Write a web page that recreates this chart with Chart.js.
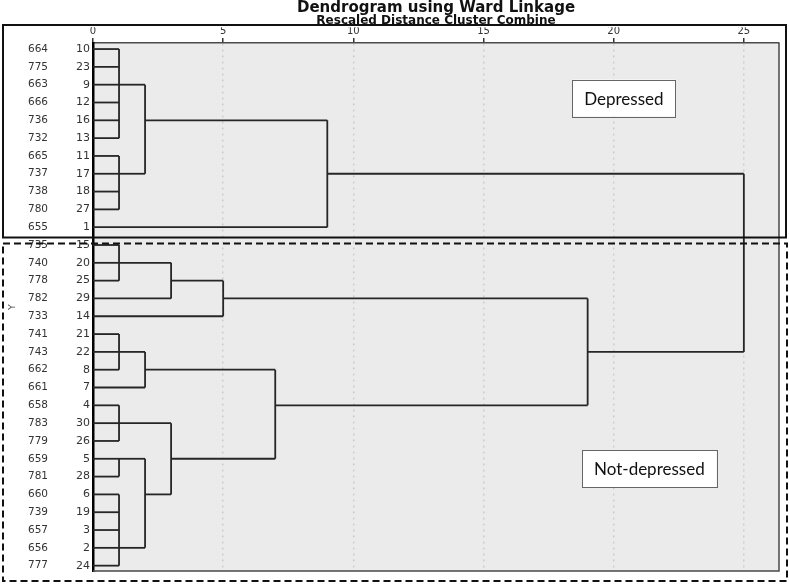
<!DOCTYPE html>
<html>
<head>
<meta charset="utf-8">
<title>Dendrogram using Ward Linkage</title>
<script src="https://cdn.jsdelivr.net/npm/chart.js@4.4.1/dist/chart.umd.min.js"></script>
<style>
  html, body { margin: 0; padding: 0; background: #fff; }
  #wrap { width: 789px; height: 586px; position: relative; }
</style>
</head>
<body>
<div id="wrap"><canvas id="dendro"></canvas></div>
<script>
// leaves, top to bottom
var leafLabels = ['10','23','9','12','16','13','11','17','18','27','1',
                  '15','20','25','29','14','21','22','8','7','4','30','26',
                  '5','28','6','19','3','2','24'];
var caseLabels = ['664','775','663','666','736','732','665','737','738','780','655',
                  '735','740','778','782','733','741','743','662','661','658','783','779',
                  '659','781','660','739','657','656','777'];

// clusters: members are leaf rows (1-based) or cluster names
var clusterNames    = ['A','B','AB','DEP','C','C2','C3','D','D2','E','F','G','FG','EFG','LOW','LOW2','ROOT'];
var clusterChildren = [[1,2,3,4,5,6],[7,8,9,10],['A','B'],['AB',11],[12,13,14],['C',15],['C2',16],
                       [17,18,19],['D',20],[21,22,23],[24,25],[26,27,28,29,30],['F','G'],['E','FG'],
                       ['D2','EFG'],['C3','LOW'],['DEP','LOW2']];
var clusterDistance = [1,1,2,9,1,3,5,1,2,1,1,1,2,3,7,19,25];
var clusterRow      = [3,8,5,8,13,14,15,18,19,22,24,29,26,24,21,18,13];

var groupNames = ['Depressed','Not-depressed'];

// build segments
var nodeX = {}, nodeY = {};
for (var i = 0; i < leafLabels.length; i++) { nodeX[i + 1] = 0; nodeY[i + 1] = i + 1; }
var datasets = [];
function seg(x1, y1, x2, y2) {
  datasets.push({
    data: [{x: x1, y: y1}, {x: x2, y: y2}],
    borderColor: '#262626',
    borderWidth: 1.8,
    pointRadius: 0,
    showLine: true,
    fill: false
  });
}
for (var c = 0; c < clusterNames.length; c++) {
  var d = clusterDistance[c];
  var ys = [];
  clusterChildren[c].forEach(function (k) {
    seg(nodeX[k], nodeY[k], d, nodeY[k]);
    ys.push(nodeY[k]);
  });
  seg(d, Math.min.apply(null, ys), d, Math.max.apply(null, ys));
  nodeX[clusterNames[c]] = d;
  nodeY[clusterNames[c]] = clusterRow[c];
}

var decor = {
  id: 'decor',
  beforeDraw: function (chart) {
    var a = chart.chartArea, ctx = chart.ctx;
    ctx.save();
    ctx.fillStyle = '#fff';
    ctx.fillRect(0, 0, chart.width, chart.height);
    ctx.fillStyle = '#ebebeb';
    ctx.fillRect(a.left, a.top, a.right - a.left, a.bottom - a.top);
    ctx.restore();
  },
  afterDraw: function (chart) {
    var a = chart.chartArea, ctx = chart.ctx;
    var xs = chart.scales.x, ys = chart.scales.y;
    ctx.save();
    // plot frame right / bottom
    ctx.strokeStyle = '#4a4a4a';
    ctx.lineWidth = 1.5;
    ctx.beginPath();
    ctx.moveTo(a.right, a.top); ctx.lineTo(a.right, a.bottom); ctx.lineTo(a.left, a.bottom);
    ctx.stroke();
    // group boxes
    var split1 = Math.round(ys.getPixelForValue(11.55)) + 0.5;
    var split2 = Math.round(ys.getPixelForValue(11.88)) + 0.5;
    ctx.strokeStyle = '#111';
    ctx.lineWidth = 2;
    ctx.strokeRect(3, 25, 783, split1 - 25);
    ctx.setLineDash([7, 4]);
    ctx.strokeRect(3, split2, 784, 581 - split2);
    ctx.setLineDash([]);
    // group labels
    ctx.font = '17px Lato';
    ctx.textAlign = 'center';
    ctx.textBaseline = 'middle';
    var pos = [[20.39, 3.75], [21.37, 24.56]];
    groupNames.forEach(function (t, i) {
      var cx = xs.getPixelForValue(pos[i][0]);
      var cy = ys.getPixelForValue(pos[i][1]);
      var w = ctx.measureText(t).width + 24, h = 37;
      ctx.fillStyle = '#fff';
      ctx.fillRect(cx - w / 2, cy - h / 2, w, h);
      ctx.strokeStyle = '#666';
      ctx.lineWidth = 1;
      ctx.strokeRect(Math.round(cx - w / 2) + 0.5, Math.round(cy - h / 2) + 0.5, Math.round(w), h);
      ctx.fillStyle = '#111';
      ctx.fillText(t, cx, cy + 1);
    });
    ctx.restore();
  }
};

var rowTicks = function (scale) {
  scale.ticks = leafLabels.map(function (_, i) { return {value: i + 1}; });
};

new Chart(document.getElementById('dendro').getContext('2d'), {
  type: 'scatter',
  data: {datasets: datasets},
  plugins: [decor],
  options: {
    responsive: true,
    maintainAspectRatio: false,
    animation: false,
    events: [],
    layout: {padding: {left: 0, right: 10, top: 0, bottom: 15}},
    plugins: {
      legend: {display: false},
      tooltip: {enabled: false},
      title: {
        display: true, fullSize: false,
        text: 'Dendrogram using Ward Linkage',
        color: '#111',
        font: {family: 'DejaVu Sans', size: 15, weight: 'bold', lineHeight: 0.95},
        padding: {top: 1, bottom: 0}
      },
      subtitle: {
        display: true, fullSize: false,
        text: 'Rescaled Distance Cluster Combine',
        color: '#111',
        font: {family: 'DejaVu Sans', size: 12, weight: 'bold', lineHeight: 1.0},
        padding: {top: 0, bottom: 0}
      }
    },
    scales: {
      x: {
        type: 'linear', position: 'top',
        min: 0, max: 26.35,
        afterFit: function (s) { s.height = 15.75; },
        ticks: {stepSize: 5, includeBounds: false, color: '#333', padding: 1,
                font: {family: 'DejaVu Sans', size: 10}},
        grid: {
          color: function (ctx) { return ctx.tick && ctx.tick.value === 0 ? 'rgba(0,0,0,0)' : '#cdcdcd'; },
          lineWidth: 1.5,
          drawTicks: true, tickLength: 5, tickColor: '#333', tickWidth: 1.5, tickBorderDash: []
        },
        border: {display: true, color: '#4a4a4a', width: 1.5, dash: [2, 4]}
      },
      y: {
        type: 'linear', position: 'left', weight: 1,
        min: 0.66, max: 30.3, reverse: true,
        afterBuildTicks: rowTicks,
        afterFit: function (s) { s.width = 38; },
        ticks: {autoSkip: false, padding: 3, color: '#333',
                font: {family: 'DejaVu Sans', size: 11},
                callback: function (v) { return leafLabels[v - 1]; }},
        grid: {display: false, drawTicks: false},
        border: {display: true, color: '#000', width: 2.5}
      },
      yCase: {
        type: 'linear', position: 'left', weight: 2,
        min: 0.66, max: 30.3, reverse: true,
        afterBuildTicks: rowTicks,
        afterFit: function (s) { s.width = 55; },
        ticks: {autoSkip: false, padding: 7, color: '#333',
                font: {family: 'DejaVu Sans', size: 10.5},
                callback: function (v) { return caseLabels[v - 1]; }},
        title: {display: true, text: 'Y', color: '#444',
                font: {family: 'DejaVu Sans', size: 9.5}, padding: {top: 7, bottom: 0}},
        grid: {display: false, drawTicks: false},
        border: {display: false}
      }
    }
  }
});
</script>
</body>
</html>
